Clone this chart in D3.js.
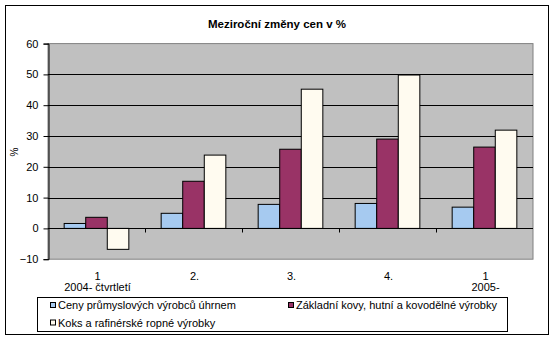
<!DOCTYPE html>
<html>
<head>
<meta charset="utf-8">
<script src="https://cdn.jsdelivr.net/npm/d3@7"></script>
<style>
  html, body { margin: 0; padding: 0; background: #fff; }
  svg { display: block; font-family: "Liberation Sans", Arial, sans-serif; }
</style>
</head>
<body>
<svg id="chart" width="555" height="342"></svg>
<script>
// Quarterly year-on-year price changes (%)
const categories = ["q1-2004", "q2-2004", "q3-2004", "q4-2004", "q1-2005"];
const categoryLabels = [["1", "2004- čtvrtletí"], ["2."], ["3."], ["4."], ["1", "2005-"]];
const seriesNames = [
  "Ceny průmyslových výrobců úhrnem",
  "Základní kovy, hutní a kovodělné výrobky",
  "Koks a rafinérské ropné výrobky"
];
const totalIndex = [1.6, 4.9, 7.8, 8.1, 6.9];
const metals = [3.6, 15.3, 25.7, 29.0, 26.4];
const coke = [-6.8, 23.8, 45.2, 49.8, 31.9];
const yTicks = [-10, 0, 10, 20, 30, 40, 50, 60];
const seriesColors = ["#a6caf0", "#993366", "#fffbf0"];

const series = [totalIndex, metals, coke];

const svg = d3.select("#chart");

// outer chart frame
svg.append("rect").attr("x", 5.5).attr("y", 5.5).attr("width", 543).attr("height", 329)
  .attr("fill", "#fff").attr("stroke", "#000");

// title
svg.append("text").attr("x", 277).attr("y", 28)
  .attr("text-anchor", "middle").attr("font-size", 11.5).attr("font-weight", "bold")
  .text("Meziroční změny cen v %");

const plot = { left: 48, right: 533, top: 43.6, bottom: 259.2 };

const y = d3.scaleLinear().domain([-10, 60]).range([plot.bottom, plot.top]);
const x0 = d3.scaleBand().domain(categories).range([plot.left, plot.right]).paddingInner(0).paddingOuter(0);
// three bars per quarter, gap between groups of 1.5 bar widths
const x1 = d3.scaleBand().domain(d3.range(3)).range([0, x0.bandwidth()]).paddingInner(0).paddingOuter(0.75);

// plot area background
svg.append("rect")
  .attr("x", plot.left).attr("y", plot.top)
  .attr("width", plot.right - plot.left).attr("height", plot.bottom - plot.top)
  .attr("fill", "#c0c0c0").attr("stroke", "#808080");

// gridlines
svg.append("g").selectAll("line").data(yTicks.filter(t => t > -10 && t < 60)).join("line")
  .attr("x1", plot.left).attr("x2", plot.right)
  .attr("y1", d => Math.round(y(d)) + 0.5).attr("y2", d => Math.round(y(d)) + 0.5)
  .attr("stroke", "#000");

// bars
const groups = svg.append("g").selectAll("g").data(categories).join("g")
  .attr("transform", d => `translate(${x0(d)},0)`);
groups.selectAll("rect").data((d, i) => series.map((s, k) => ({ k, v: s[i] }))).join("rect")
  .attr("x", d => x1(d.k))
  .attr("width", x1.bandwidth())
  .attr("y", d => y(Math.max(0, d.v)))
  .attr("height", d => Math.abs(y(d.v) - y(0)))
  .attr("fill", d => seriesColors[d.k])
  .attr("stroke", "#000").attr("stroke-width", 1);

// y axis
const yAxis = svg.append("g").attr("transform", `translate(${plot.left + 0.5},0)`)
  .call(d3.axisLeft(y).tickValues(yTicks).tickSize(5).tickPadding(5));
yAxis.select(".domain").attr("stroke", "#000");
yAxis.selectAll("line").attr("stroke", "#000");
yAxis.selectAll("text").attr("font-size", 11).attr("fill", "#000")
  .attr("font-family", "Liberation Sans, Arial, sans-serif");

// category axis on zero line
const zeroY = Math.round(y(0)) + 0.5;
const xAxis = svg.append("g").attr("transform", `translate(0,${zeroY})`)
  .call(d3.axisBottom(x0).tickSize(4).tickFormat(""));
xAxis.select(".domain").attr("stroke", "#000").attr("d", `M${plot.left},0H${plot.right}`);
xAxis.selectAll(".tick").remove();
xAxis.selectAll("line.cat").data(categories.slice(1)).join("line").attr("class", "cat")
  .attr("x1", d => Math.round(x0(d)) + 0.5).attr("x2", d => Math.round(x0(d)) + 0.5)
  .attr("y1", 0).attr("y2", 4)
  .attr("stroke", "#000");

// category labels
const labels = svg.append("g").selectAll("text").data(categories).join("text")
  .attr("x", d => x0(d) + x0.bandwidth() / 2 + 1)
  .attr("y", 279.5)
  .attr("text-anchor", "middle").attr("font-size", 11);
labels.selectAll("tspan").data((d, i) => categoryLabels[i]).join("tspan")
  .attr("x", function () { return this.parentNode.getAttribute("x"); })
  .attr("dy", (d, j) => j === 0 ? 0 : 11.5)
  .text(d => d);

// y axis title
svg.append("text").attr("transform", "translate(18,152) rotate(-90)")
  .attr("text-anchor", "middle").attr("font-size", 10).text("%");

// legend
const legend = svg.append("g");
legend.append("rect").attr("x", 37.5).attr("y", 297.5).attr("width", 470).attr("height", 34)
  .attr("fill", "#fff").attr("stroke", "#000");
const legendPos = [[50, 305], [288, 305], [50, 322.5]];
const items = legend.selectAll("g.item").data(seriesNames).join("g").attr("class", "item")
  .attr("transform", (d, i) => `translate(${legendPos[i][0]},${legendPos[i][1]})`);
items.append("rect").attr("x", 0.5).attr("y", -2.5).attr("width", 5).attr("height", 5)
  .attr("fill", (d, i) => seriesColors[i]).attr("stroke", "#000");
items.append("text").attr("x", 8).attr("y", 4).attr("font-size", 11).text(d => d);
</script>
</body>
</html>
